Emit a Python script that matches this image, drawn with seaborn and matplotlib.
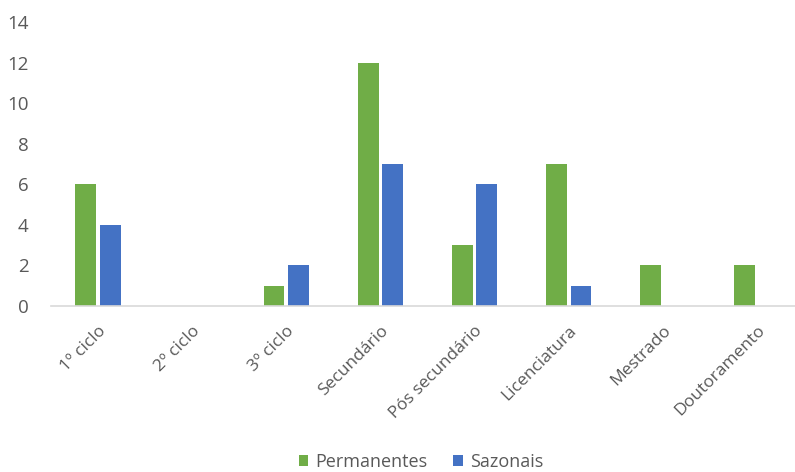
import matplotlib
matplotlib.use("Agg")
import matplotlib.pyplot as plt
import seaborn as sns
import pandas as pd

# ---- Data ----
niveis = ["1º ciclo", "2º ciclo", "3º ciclo", "Secundário", "Pós secundário",
          "Licenciatura", "Mestrado", "Doutoramento"]
permanentes = [6, 0, 1, 12, 3, 7, 2, 2]
sazonais = [4, 0, 2, 7, 6, 1, 0, 0]
y_ticks = [0, 2, 4, 6, 8, 10, 12, 14]

df = pd.DataFrame({
    "Nivel": niveis * 2,
    "Valor": permanentes + sazonais,
    "Tipo": ["Permanentes"] * len(niveis) + ["Sazonais"] * len(niveis),
})

# ---- Plotting ----
sns.set_style("white")
plt.rcParams["font.family"] = ["Open Sans", "DejaVu Sans"]
text_col = "#595959"

fig = plt.figure(figsize=(7.95, 4.72), dpi=100)
ax = fig.add_axes([51 / 795, 166 / 472, 753 / 795, 284 / 472])

sns.barplot(data=df, x="Nivel", y="Valor", hue="Tipo", order=niveis,
            palette={"Permanentes": "#70AD47", "Sazonais": "#4472C4"},
            width=0.52, gap=0.15, saturation=1, linewidth=0, ax=ax)

ax.set_ylim(0, 14)
ax.set_xlim(-0.5, len(niveis) - 0.5)
ax.set_yticks(y_ticks)
ax.set_xlabel("")
ax.set_ylabel("")
for s in ["top", "right", "left"]:
    ax.spines[s].set_visible(False)
ax.spines["bottom"].set_color("#d9d9d9")
ax.spines["bottom"].set_linewidth(1.2)
ax.tick_params(axis="x", length=0, colors=text_col, labelsize=12.5, pad=12)
ax.tick_params(axis="y", length=0, colors=text_col, labelsize=13.5, pad=16)
plt.setp(ax.get_xticklabels(), rotation=45, ha="right", rotation_mode="anchor")

handles, labels = ax.get_legend_handles_labels()
ax.get_legend().remove()
leg = fig.legend(handles, labels, loc="center", ncol=2, frameon=False,
                 bbox_to_anchor=(421 / 795, 10 / 472),
                 handlelength=0.55, handleheight=0.6, handletextpad=0.4,
                 columnspacing=1.4, fontsize=13)
for t in leg.get_texts():
    t.set_color(text_col)

fig.savefig("out.png", dpi=100)
plt.close(fig)
